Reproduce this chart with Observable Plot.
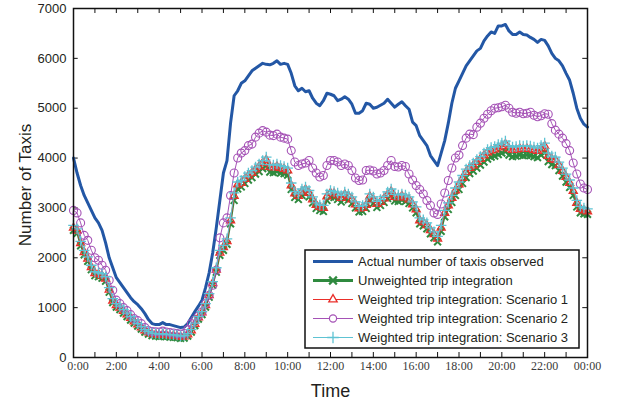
<!DOCTYPE html>
<html>
<head>
<meta charset="utf-8">
<script src="https://cdn.jsdelivr.net/npm/d3@7"></script>
<script src="https://cdn.jsdelivr.net/npm/@observablehq/plot@0.6"></script>
<style>
  html, body { margin: 0; padding: 0; background: white; }
</style>
</head>
<body>
<div id="chart"></div>
<script>
// 10-minute steps from 0:00 to 24:00 (145 samples); one row per hour
const hours = d3.range(145).map(i => i / 6);

const actual = [
  4000, 3700, 3450, 3250, 3100, 2950,
  2800, 2700, 2550, 2300, 2000, 1800,
  1600, 1500, 1400, 1300, 1200, 1120,
  1060, 980, 880, 760, 680, 660,
  660, 700, 660, 660, 640, 620,
  600, 610, 680, 800, 920, 1030,
  1150, 1400, 1700, 2100, 2600, 3150,
  3700, 3950, 4700, 5250, 5350, 5500,
  5550, 5650, 5750, 5800, 5850, 5900,
  5880, 5870, 5900, 5950, 5880, 5900,
  5880, 5700, 5450, 5350, 5400, 5330,
  5350, 5200, 5100, 5050, 5150, 5300,
  5280, 5250, 5150, 5180, 5230, 5180,
  5080, 4900, 4900, 4950, 5100, 5080,
  5000, 5020, 5060, 5100, 5180, 5100,
  5020, 5080, 5130, 5050, 4980, 4720,
  4650, 4450, 4350, 4250, 4050, 3950,
  3850, 4100, 4350, 4700, 5100, 5400,
  5550, 5700, 5850, 5950, 6050, 6150,
  6200, 6350, 6450, 6530, 6500, 6650,
  6650, 6680, 6550, 6480, 6480, 6530,
  6480, 6470, 6420, 6380, 6320, 6380,
  6360, 6250, 6100, 6000, 5950, 5850,
  5700, 5560, 5300, 5000, 4800, 4680,
  4620
];

const unweighted = [
  2550, 2490, 2240, 2060, 1930, 1760,
  1640, 1620, 1590, 1530, 1310, 1100,
  1010, 960, 890, 820, 750, 690,
  630, 570, 510, 470, 440, 430,
  420, 430, 420, 410, 405, 400,
  385, 390, 430, 510, 640, 770,
  860, 1010, 1210, 1450, 1710, 2050,
  2150, 2270, 2680, 3150, 3380, 3420,
  3490, 3560, 3610, 3680, 3730, 3790,
  3850, 3720, 3710, 3730, 3700, 3690,
  3660, 3370, 3210, 3170, 3250, 3290,
  3220, 3100, 2990, 2950, 2930, 3150,
  3220, 3210, 3170, 3120, 3190, 3160,
  3090, 3000, 2920, 2930, 2990, 3150,
  3090, 3010, 3050, 3110, 3190, 3250,
  3140, 3130, 3160, 3130, 3090, 3000,
  2900, 2680, 2640, 2580, 2480, 2400,
  2320, 2530, 2820, 2970, 3110, 3250,
  3370, 3490, 3610, 3690, 3740, 3800,
  3860, 3920, 3980, 4020, 4040, 4070,
  4100, 4130, 4060, 4030, 4040, 4060,
  4050, 4060, 4050, 4030, 4010, 4060,
  4110, 3930, 3870, 3850, 3750, 3640,
  3520, 3410, 3250, 3020, 2900, 2880,
  2870
];

const scenario1 = [
  2600, 2540, 2290, 2110, 1980, 1810,
  1690, 1670, 1640, 1580, 1360, 1140,
  1050, 1000, 930, 860, 790, 720,
  660, 600, 540, 500, 470, 460,
  450, 460, 450, 440, 435, 430,
  410, 420, 460, 540, 670, 800,
  900, 1050, 1250, 1490, 1760, 2100,
  2210, 2330, 2750, 3240, 3470, 3500,
  3580, 3650, 3700, 3770, 3830, 3900,
  3960, 3820, 3810, 3830, 3800, 3780,
  3750, 3450, 3290, 3240, 3330, 3370,
  3300, 3170, 3060, 3020, 3000, 3230,
  3300, 3290, 3250, 3200, 3270, 3240,
  3170, 3070, 2990, 3000, 3060, 3230,
  3170, 3080, 3120, 3190, 3270, 3330,
  3220, 3210, 3240, 3210, 3170, 3070,
  2970, 2750, 2710, 2650, 2550, 2470,
  2380, 2600, 2900, 3050, 3200, 3350,
  3470, 3600, 3720, 3800, 3850, 3920,
  3980, 4050, 4110, 4150, 4170, 4210,
  4240, 4280, 4190, 4160, 4170, 4190,
  4180, 4190, 4180, 4160, 4140, 4190,
  4240, 4040, 3980, 3960, 3860, 3740,
  3620, 3500, 3340, 3100, 2980, 2950,
  2930
];

const scenario2 = [
  2950, 2900, 2700, 2450, 2350, 2150,
  2000, 1950, 1850, 1750, 1550, 1350,
  1150, 1080, 1000, 940, 860, 780,
  740, 680, 600, 540, 520, 515,
  510, 530, 510, 500, 490, 480,
  470, 480, 560, 680, 750, 830,
  910, 1080, 1250, 1450, 1750, 2400,
  2700, 2800, 3250, 3700, 4000, 4100,
  4150, 4250, 4280, 4420, 4500, 4550,
  4520, 4460, 4450, 4480, 4420, 4400,
  4380, 4150, 3920, 3850, 3880, 3900,
  3950, 3800, 3700, 3620, 3650, 3850,
  3950, 3950, 3920, 3850, 3880, 3850,
  3750, 3600, 3550, 3560, 3750, 3760,
  3740, 3680, 3700, 3750, 3850, 3950,
  3830, 3820, 3850, 3830, 3680, 3560,
  3450, 3370, 3280, 3150, 3050, 2900,
  2870, 3080, 3300, 3550, 3800, 4000,
  4060, 4250, 4400, 4480, 4470, 4620,
  4700, 4800, 4880, 4950, 5000, 5010,
  5030, 5060, 5000, 4920, 4900, 4920,
  4890, 4900, 4920, 4860, 4830, 4850,
  4890, 4880, 4690, 4560, 4480, 4400,
  4290, 4150, 3900, 3680, 3480, 3400,
  3370
];

const scenario3 = [
  2650, 2580, 2330, 2150, 2020, 1850,
  1720, 1700, 1680, 1620, 1400, 1180,
  1080, 1030, 960, 890, 820, 750,
  680, 620, 560, 520, 490, 480,
  470, 480, 470, 460, 455, 450,
  430, 440, 480, 560, 690, 820,
  920, 1080, 1280, 1520, 1800, 2150,
  2250, 2380, 2800, 3300, 3520, 3550,
  3630, 3700, 3750, 3820, 3880, 3950,
  4020, 3870, 3860, 3880, 3850, 3830,
  3800, 3500, 3330, 3280, 3380, 3420,
  3350, 3220, 3100, 3060, 3050, 3280,
  3350, 3330, 3300, 3250, 3320, 3280,
  3220, 3120, 3030, 3050, 3100, 3280,
  3220, 3130, 3170, 3230, 3320, 3380,
  3270, 3260, 3280, 3260, 3220, 3120,
  3020, 2800, 2760, 2700, 2600, 2520,
  2430, 2650, 2950, 3100, 3250, 3400,
  3520, 3650, 3780, 3850, 3900, 3970,
  4030, 4100, 4170, 4210, 4230, 4270,
  4300, 4340, 4250, 4220, 4230, 4250,
  4240, 4250, 4240, 4220, 4200, 4250,
  4300, 4100, 4040, 4020, 3920, 3800,
  3680, 3560, 3400, 3150, 3030, 3000,
  2980
];

const xTickLabels = ["0:00","2:00","4:00","6:00","8:00","10:00","12:00","14:00","16:00","18:00","20:00","22:00","00:00"];
const yTicks = [0, 1000, 2000, 3000, 4000, 5000, 6000, 7000];
const legendLabels = [
  "Actual number of taxis observed",
  "Unweighted trip integration",
  "Weighted trip integration: Scenario 1",
  "Weighted trip integration: Scenario 2",
  "Weighted trip integration: Scenario 3"
];

const C = {
  blue: "#2357a5",
  green: "#2f8a3f",
  red: "#ea2f2a",
  purple: "#a552b6",
  cyan: "#5ec3d3"
};

const rows = vals => vals.map((v, i) => ({t: hours[i], v}));
const xMajor = d3.range(0, 25, 2);
const xMinor = d3.range(0, 25, 1);
const xLabelOpts = {
  tickSize: 0, tickPadding: 4, label: null,
  tickFormat: d => xTickLabels[xMajor.indexOf(d)],
  fontFamily: "Liberation Serif", fontSize: 12, fill: "#3a3a3a"
};

const chart = Plot.plot({
  width: 624,
  height: 404,
  marginLeft: 73,
  marginRight: 37,
  marginTop: 8,
  marginBottom: 47,
  style: {fontFamily: "Liberation Sans", fontSize: "13px", color: "#231f20", background: "white"},
  x: {domain: [0, 24]},
  y: {domain: [0, 7000]},
  marks: [
    // inward ticks on all four sides
    Plot.ruleX(xMinor, {x: d => d, y1: 0, y2: 100, stroke: "#111", strokeWidth: 1}),
    Plot.ruleX(xMinor, {x: d => d, y1: 6900, y2: 7000, stroke: "#111", strokeWidth: 1}),
    Plot.ruleY(yTicks, {y: d => d, x1: 0, x2: 0.22, stroke: "#111", strokeWidth: 1}),
    Plot.ruleY(yTicks, {y: d => d, x1: 23.78, x2: 24, stroke: "#111", strokeWidth: 1}),
    Plot.axisX(xMajor.filter(d => d > 0), xLabelOpts),
    Plot.axisX([0], {...xLabelOpts, dx: 4.5}),
    Plot.axisY(yTicks, {
      tickSize: 0, tickPadding: 7, label: null,
      tickFormat: d => String(d), fontSize: 13, fill: "#231f20"
    }),
    // series
    Plot.line(rows(actual), {x: "t", y: "v", stroke: C.blue, strokeWidth: 3}),
    Plot.line(rows(unweighted), {x: "t", y: "v", stroke: C.green, strokeWidth: 1.5}),
    Plot.dot(rows(unweighted), {x: "t", y: "v", symbol: "times", r: 3.2, stroke: C.green, strokeWidth: 2}),
    Plot.line(rows(scenario1), {x: "t", y: "v", stroke: C.red, strokeWidth: 1}),
    Plot.dot(rows(scenario1), {x: "t", y: "v", symbol: "triangle", r: 3, stroke: C.red, strokeWidth: 1.3}),
    Plot.line(rows(scenario2), {x: "t", y: "v", stroke: C.purple, strokeWidth: 1}),
    Plot.dot(rows(scenario2), {x: "t", y: "v", symbol: "circle", r: 4, stroke: C.purple, fill: "none", strokeWidth: 1.1}),
    Plot.line(rows(scenario3), {x: "t", y: "v", stroke: C.cyan, strokeWidth: 1}),
    Plot.dot(rows(scenario3), {x: "t", y: "v", symbol: "plus", r: 3.5, stroke: C.cyan, strokeWidth: 1.3}),
    Plot.frame({stroke: "#111", strokeWidth: 1.5}),
    // axis titles
    Plot.text(["Number of Taxis"], {text: d => d, frameAnchor: "left", textAnchor: "middle", lineAnchor: "middle", dx: -48, dy: 2, rotate: -90, fontSize: 17, fill: "#231f20"}),
    Plot.text(["Time"], {text: d => d, frameAnchor: "bottom", textAnchor: "middle", lineAnchor: "middle", dy: 34, fontSize: 18, fill: "#231f20"})
  ]
});

document.getElementById("chart").appendChild(chart);

// legend box (inside the plot, bottom right)
const svg = d3.select(chart);
const lg = svg.append("g").attr("font-family", "Liberation Sans").attr("font-size", 13).attr("text-anchor", "start");
lg.append("rect").attr("x", 305).attr("y", 250).attr("width", 274).attr("height", 98)
  .attr("fill", "white").attr("stroke", "#111").attr("stroke-width", 1.5);
const legendStyles = [
  {color: C.blue, w: 3, sym: null},
  {color: C.green, w: 3, sym: d3.symbolTimes, sw: 2.2, r: 3.6},
  {color: C.red, w: 1.2, sym: d3.symbolTriangle2, sw: 1.3, r: 4, fill: "white"},
  {color: C.purple, w: 1.2, sym: d3.symbolCircle, sw: 1.2, r: 3.6, fill: "white"},
  {color: C.cyan, w: 1.2, sym: d3.symbolPlus, sw: 1.3, r: 3.8}
];
legendLabels.forEach((label, i) => {
  const y = 261.5 + i * 19;
  const s = legendStyles[i];
  lg.append("line").attr("x1", 313).attr("x2", 353).attr("y1", y).attr("y2", y)
    .attr("stroke", s.color).attr("stroke-width", s.w);
  if (s.sym) {
    lg.append("path").attr("d", d3.symbol(s.sym, Math.PI * s.r * s.r)())
      .attr("transform", `translate(333,${y})`)
      .attr("fill", s.fill || "none").attr("stroke", s.color).attr("stroke-width", s.sw);
  }
  lg.append("text").attr("x", 358).attr("y", y).attr("dy", "0.35em")
    .attr("text-anchor", "start").attr("fill", "#231f20").text(label);
});
</script>
</body>
</html>
